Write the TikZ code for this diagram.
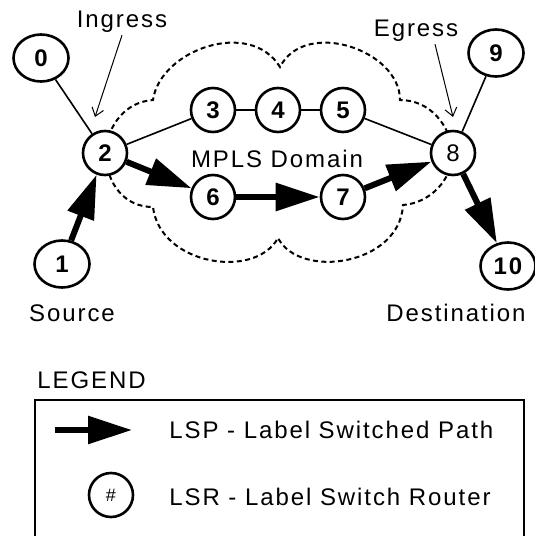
\documentclass[tikz,border=0pt]{standalone}
\usepackage{fontspec}
\setmainfont{Liberation Sans}[LetterSpace=8]
\usetikzlibrary{positioning,arrows.meta,shapes.geometric}

\begin{document}
\begin{tikzpicture}[x=0.5pt, y=-0.5pt,
        lsr node/.style={circle, draw, line width=1.3pt, fill=white, minimum size=22pt, inner sep=0pt, font=\fontsize{12}{12}\selectfont\bfseries},
        host node/.style={ellipse, draw, line width=1.3pt, fill=white, minimum width=27.5pt, minimum height=23.5pt, inner sep=0pt, font=\fontsize{12}{12}\selectfont\bfseries},
        link/.style={line width=0.8pt},
        lsp/.style={line width=3pt, -{Triangle[length=22pt,width=13.5pt]}},
        pointer/.style={line width=0.5pt, -{Straight Barb[length=4pt,width=6pt]}},
        cloud line/.style={line width=1pt, dash pattern=on 2.5pt off 1.7pt},
        caption/.style={font=\fontsize{12}{14}\selectfont, inner sep=1pt}]

            \useasboundingbox (0,0) rectangle (535,536);

            % MPLS domain cloud, drawn first so the routers sit on top
            \draw[cloud line] (105,153)
                .. controls (108,125) and (125,102) .. (153,100)
                .. controls (160,50) and (250,18) .. (280,67)
                .. controls (305,18) and (400,50) .. (400,100)
                .. controls (430,100) and (450,125) .. (453,153)
                .. controls (452,180) and (430,203) .. (403,205)
                .. controls (400,265) and (300,280) .. (278,238)
                .. controls (255,280) and (160,265) .. (153,207)
                .. controls (125,207) and (107,185) .. (105,153) -- cycle;

            % hosts outside the domain
            \node[host node] (0) at (41,58) {0};
            \node[host node] (1) at (62,264) {1};
            \node[host node] (9) at (496,53) {9};
            \node[host node] (10) at (508,266) {10};

            % label switch routers
            \node[lsr node] (2) at (105,153) {2};
            \node[lsr node] (3) at (213,110) {3};
            \node[lsr node] (4) at (278,110) {4};
            \node[lsr node] (5) at (343,110) {5};
            \node[lsr node] (6) at (213,197) {6};
            \node[lsr node] (7) at (343,197) {7};
            \node[lsr node, font=\fontsize{12}{12}\selectfont] (8) at (453,153) {8};

            % plain links
            \path
                (0) edge[link] (2)
                (2) edge[link] (3)
                (3) edge[link] (4)
                (4) edge[link] (5)
                (5) edge[link] (8)
                (8) edge[link] (9);

            % the label switched path
            \path
                (1) edge[lsp] (2)
                (2) edge[lsp] (6)
                (6) edge[lsp] (7)
                (7) edge[lsp] (8)
                (8) edge[lsp] (10);

            % captions
            \node[caption] (ingress) at (122,22) {Ingress};
            \node[caption] (egress) at (416,31) {Egress};
            \node[caption] (domain name) at (277,159) {MPLS Domain};
            \node[caption] (source) at (72,313) {Source};
            \node[caption] (destination) at (456,313) {Destination};

            \coordinate (ingress tip) at (95,117);
            \coordinate (egress tip) at (453,117);
            \draw[pointer] (ingress.south) -- (ingress tip);
            \draw[pointer] ([xshift=9.5pt]egress.south) -- (egress tip);

            % legend
            \node[caption, anchor=west] (legend) at (35,380) {LEGEND};
            \draw[line width=0.75pt] (35,540) -- (35,400) -- (524,400) -- (524,540);

            \coordinate (key tail) at (55,430);
            \coordinate (key head) at (132,430);
            \draw[lsp] (key tail) -- (key head);
            \node[caption, anchor=west] (lsp text) at (167,430) {LSP - Label Switched Path};

            \node[lsr node, font=\fontsize{9}{9}\selectfont] (lsr key) at (111,495) {\#};
            \node[caption, anchor=west] (lsr text) at (167,497) {LSR - Label Switch Router};

    \end{tikzpicture}
\end{document}
